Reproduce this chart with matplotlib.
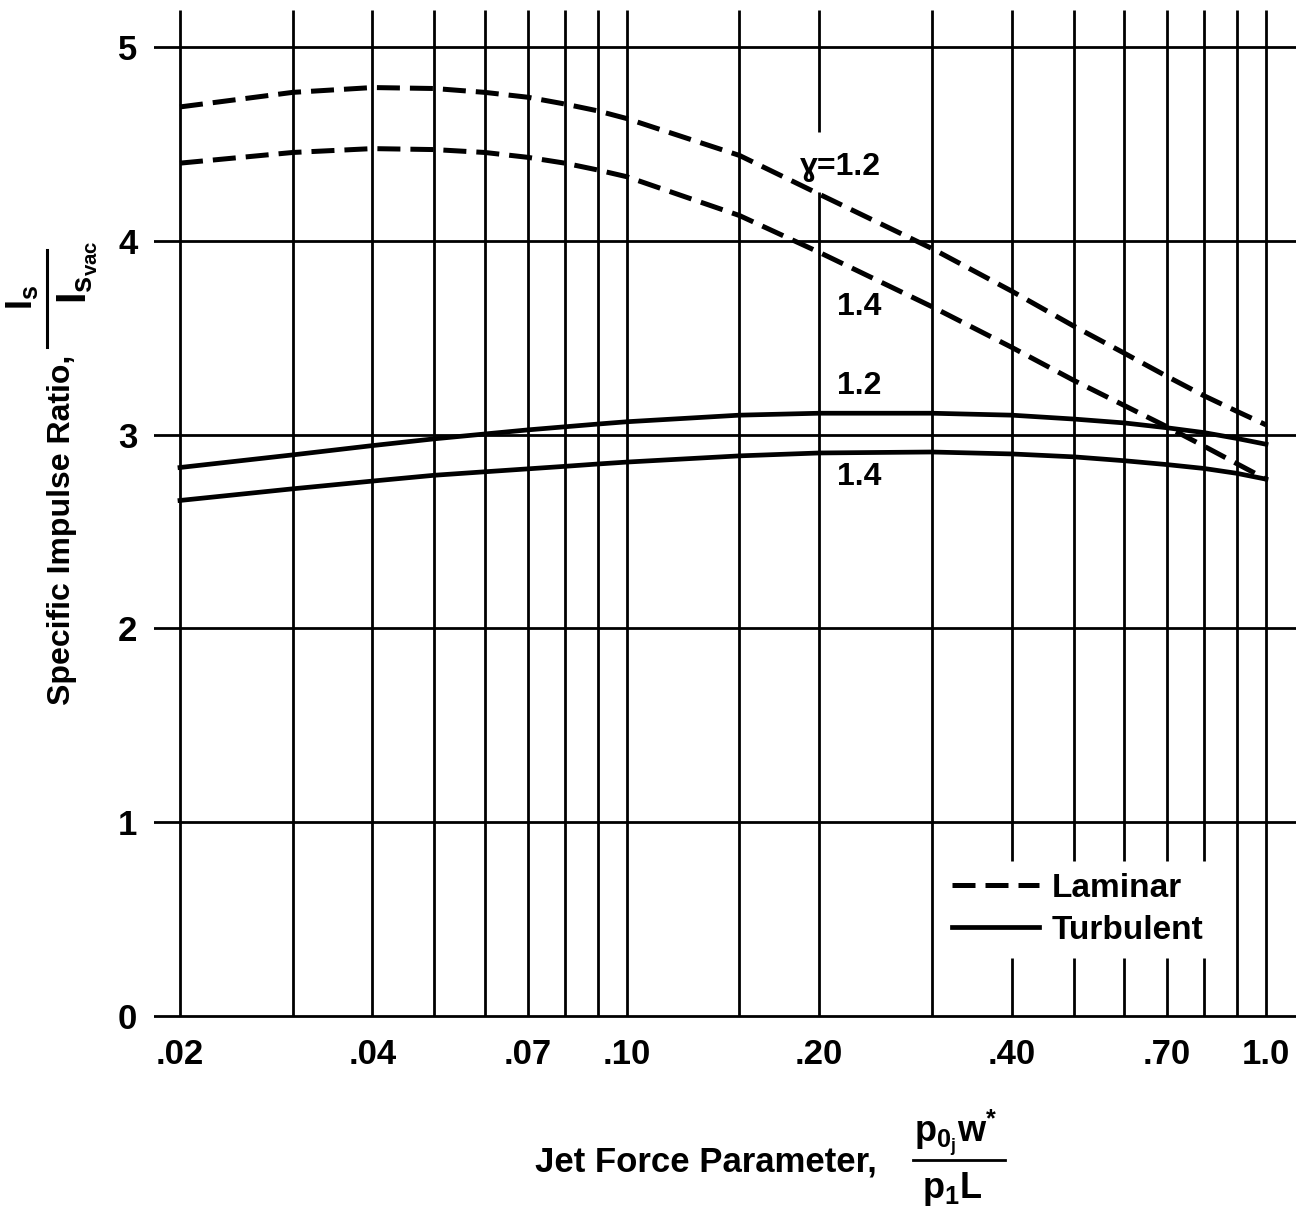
import matplotlib
matplotlib.use("Agg")
import matplotlib.pyplot as plt
from matplotlib.lines import Line2D
from matplotlib.ticker import NullLocator, FixedLocator, FixedFormatter

plt.rcParams['font.family'] = ['Liberation Sans', 'DejaVu Sans']
plt.rcParams['font.weight'] = 'bold'
plt.rcParams['mathtext.fontset'] = 'custom'
plt.rcParams['mathtext.rm'] = 'Liberation Sans:bold'
plt.rcParams['mathtext.it'] = 'Liberation Sans:bold'
plt.rcParams['mathtext.bf'] = 'Liberation Sans:bold'

# ---- data ----
x_pts = [0.02, 0.03, 0.04, 0.05, 0.06, 0.07, 0.08, 0.09, 0.10, 0.15,
         0.20, 0.30, 0.40, 0.50, 0.60, 0.70, 0.80, 0.90, 1.00]
laminar_12 = [4.69, 4.765, 4.79, 4.785, 4.765, 4.74, 4.705, 4.67, 4.63, 4.44,
              4.24, 3.96, 3.74, 3.56, 3.42, 3.30, 3.20, 3.12, 3.05]
laminar_14 = [4.40, 4.455, 4.475, 4.47, 4.455, 4.43, 4.40, 4.365, 4.33, 4.13,
              3.94, 3.66, 3.45, 3.28, 3.15, 3.04, 2.94, 2.85, 2.77]
turbulent_12 = [2.83, 2.895, 2.943, 2.978, 3.003, 3.024, 3.04, 3.054, 3.066, 3.10,
                3.11, 3.11, 3.10, 3.08, 3.06, 3.035, 3.01, 2.98, 2.95]
turbulent_14 = [2.66, 2.72, 2.76, 2.79, 2.808, 2.823, 2.836, 2.848, 2.858, 2.89,
                2.905, 2.91, 2.90, 2.885, 2.865, 2.845, 2.825, 2.80, 2.77]

x_tick_vals = [0.02, 0.04, 0.07, 0.10, 0.20, 0.40, 0.70, 1.0]
x_tick_labels = ['.02', '.04', '.07', '.10', '.20', '.40', '.70', '1.0']
y_tick_vals = [0, 1, 2, 3, 4, 5]
y_tick_labels = ['0', '1', '2', '3', '4', '5']

grid_x = [0.02, 0.03, 0.04, 0.05, 0.06, 0.07, 0.08, 0.09, 0.10, 0.15,
          0.20, 0.30, 0.40, 0.50, 0.60, 0.70, 0.80, 0.90, 1.0]
grid_y = [0, 1, 2, 3, 4, 5]
gap_label_x = [0.20]
gap_label_range = (4.25, 4.56)
gap_legend_x = [0.40, 0.50, 0.60, 0.70, 0.80]
gap_legend_range = (0.30, 0.80)

curve_labels = ['\u0263=1.2', '1.4', '1.2', '1.4']
curve_label_y = [4.38, 3.66, 3.25, 2.78]
curve_label_x = 0.25

# ---- figure ----
W, H = 1303, 1211
fig = plt.figure(figsize=(W / 100, H / 100), dpi=100)
ax_left, ax_right, ax_top, ax_bot = 154, 1296, 10, 1020
ax = fig.add_axes([ax_left / W, 1 - ax_bot / H, (ax_right - ax_left) / W, (ax_bot - ax_top) / H])

ax.set_xscale('log')
ax.set_xlim(0.018212, 1.1141)
y_top = 5.19
ax.set_ylim(-0.02, y_top)

for s in ax.spines.values():
    s.set_visible(False)

grid_lw = 2.0
for gy in grid_y:
    ax.axhline(gy, color='black', lw=grid_lw, zorder=1)
for gx in grid_x:
    if gx in gap_label_x:
        segs = [(0, gap_label_range[0]), (gap_label_range[1], y_top)]
    elif gx in gap_legend_x:
        segs = [(0, gap_legend_range[0]), (gap_legend_range[1], y_top)]
    else:
        segs = [(0, y_top)]
    for lo, hi in segs:
        ax.vlines(gx, lo, hi, color='black', lw=grid_lw, zorder=1)

dash = (0, (4.6, 2.0))
ax.plot(x_pts, laminar_12, color='black', lw=3.6, linestyle=dash, zorder=3, label='Laminar')
ax.plot(x_pts, laminar_14, color='black', lw=3.6, linestyle=dash, zorder=3)
ax.plot(x_pts, turbulent_12, color='black', lw=3.4, zorder=3, label='Turbulent')
ax.plot(x_pts, turbulent_14, color='black', lw=3.4, zorder=3)

for lab, ly in zip(curve_labels, curve_label_y):
    ax.text(curve_label_x, ly, lab, ha='right', va='center', fontsize=23, fontweight='bold',
            family=['Liberation Sans', 'DejaVu Sans'])

ax.xaxis.set_major_locator(FixedLocator(x_tick_vals))
ax.xaxis.set_major_formatter(FixedFormatter(x_tick_labels))
ax.xaxis.set_minor_locator(NullLocator())
ax.set_yticks(y_tick_vals)
ax.set_yticklabels(y_tick_labels)
ax.tick_params(axis='both', length=0, labelsize=25)
ax.tick_params(axis='x', pad=13)
ax.tick_params(axis='y', pad=12)

ax.legend(loc='upper left',
          bbox_to_anchor=((952 - ax_left) / (ax_right - ax_left), (ax_bot - 873) / (ax_bot - ax_top)),
          frameon=False, fontsize=24, handlelength=2.6, handletextpad=0.4,
          labelspacing=0.32, borderpad=0, borderaxespad=0)

# x-axis label with fraction
fig.text(535 / W, 1 - 1162 / H, 'Jet Force Parameter,', ha='left', va='center',
         fontsize=25, fontweight='bold')
fig.text(956 / W, 1 - 1133 / H, r'p$_{0_j}$w$^{*}$', ha='center', va='center', fontsize=26)
fig.add_artist(Line2D([913 / W, 1005 / W], [1 - 1160 / H, 1 - 1160 / H], color='black', lw=2.0))
fig.text(952 / W, 1 - 1189 / H, r'p$_1$L', ha='center', va='center', fontsize=26)

# y-axis label with fraction
fig.text(62 / W, 1 - 705 / H, 'Specific Impulse Ratio,', rotation=90,
         ha='center', va='bottom', fontsize=23, fontweight='bold')
fig.text(40 / W, 1 - 297 / H, r'I$_s$', rotation=90, ha='right', va='center', fontsize=26)
fig.add_artist(Line2D([47 / W, 47 / W], [1 - 347 / H, 1 - 250 / H], color='black', lw=2.2))
fig.text(55 / W, 1 - 272 / H, r'I$_{s_{vac}}$', rotation=90, ha='left', va='center', fontsize=30)

fig.savefig('out.png', dpi=100)
